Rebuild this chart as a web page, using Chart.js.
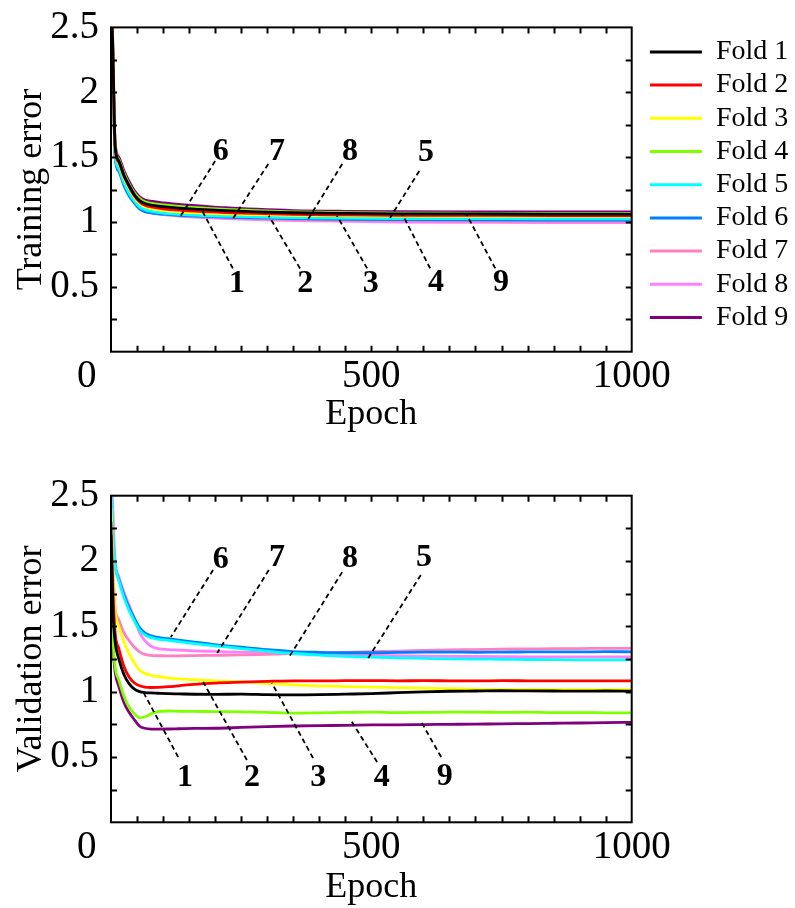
<!DOCTYPE html>
<html>
<head>
<meta charset="utf-8">
<title>Training and validation error per fold</title>
<script src="https://cdn.jsdelivr.net/npm/chart.js@4.4.1/dist/chart.umd.min.js"></script>
<style>
  html, body { margin: 0; padding: 0; background: #ffffff; overflow: hidden; }
  #wrap { position: relative; width: 795px; height: 908px; overflow: hidden; }
  canvas { position: absolute; left: 0; }
</style>
</head>
<body>
<div id="wrap">
  <canvas id="trainChart" width="795" height="454" style="top:0px"></canvas>
  <canvas id="valChart" width="795" height="454" style="top:454px"></canvas>
</div>
<script>
// ---- data -------------------------------------------------------------
const foldNames = ['Fold 1', 'Fold 2', 'Fold 3', 'Fold 4', 'Fold 5', 'Fold 6', 'Fold 7', 'Fold 8', 'Fold 9'];
const foldColors = ['#000000', '#ff0000', '#ffff00', '#80ff00', '#00ffff', '#0080ff', '#ff80c0', '#ff80ff', '#800080'];

// training error
const trainEpochs = [0, 3, 8, 15, 25, 35, 45, 55, 65, 80, 100, 130, 170, 220, 280, 350, 450, 550, 700, 850, 1000];
const trainFold1 = [2.70, 2.40, 1.58, 1.47, 1.36, 1.28, 1.21, 1.165, 1.142, 1.128, 1.118, 1.107, 1.097, 1.087, 1.078, 1.071, 1.066, 1.063, 1.062, 1.061, 1.061];
const trainFold2 = [2.68, 2.38, 1.57, 1.46, 1.35, 1.27, 1.20, 1.155, 1.130, 1.114, 1.102, 1.091, 1.081, 1.073, 1.066, 1.059, 1.055, 1.052, 1.051, 1.050, 1.050];
const trainFold3 = [2.66, 2.36, 1.56, 1.45, 1.34, 1.26, 1.19, 1.145, 1.120, 1.102, 1.090, 1.079, 1.071, 1.063, 1.057, 1.052, 1.048, 1.046, 1.045, 1.045, 1.045];
const trainFold4 = [2.70, 2.42, 1.59, 1.48, 1.375, 1.29, 1.225, 1.18, 1.155, 1.142, 1.132, 1.120, 1.108, 1.097, 1.087, 1.078, 1.071, 1.068, 1.067, 1.066, 1.066];
const trainFold5 = [2.62, 2.32, 1.52, 1.41, 1.30, 1.22, 1.16, 1.115, 1.095, 1.080, 1.068, 1.059, 1.051, 1.045, 1.039, 1.033, 1.029, 1.027, 1.026, 1.025, 1.025];
const trainFold6 = [2.60, 2.30, 1.50, 1.39, 1.28, 1.20, 1.145, 1.100, 1.080, 1.068, 1.060, 1.052, 1.045, 1.038, 1.032, 1.026, 1.021, 1.018, 1.016, 1.015, 1.015];
const trainFold7 = [2.62, 2.30, 1.50, 1.40, 1.29, 1.21, 1.15, 1.105, 1.085, 1.070, 1.060, 1.050, 1.040, 1.032, 1.025, 1.018, 1.012, 1.008, 1.005, 1.003, 1.003];
const trainFold8 = [2.65, 2.32, 1.50, 1.40, 1.29, 1.21, 1.15, 1.105, 1.085, 1.068, 1.057, 1.046, 1.035, 1.026, 1.018, 1.011, 1.005, 1.000, 0.997, 0.995, 0.995];
const trainFold9 = [2.75, 2.45, 1.61, 1.50, 1.395, 1.31, 1.24, 1.195, 1.169, 1.158, 1.148, 1.135, 1.124, 1.110, 1.098, 1.088, 1.082, 1.079, 1.077, 1.077, 1.077];

// validation error
const valEpochs = [0, 4, 8, 15, 25, 35, 45, 55, 65, 77, 90, 110, 130, 160, 200, 250, 300, 350, 400, 450, 500, 550, 600, 650, 700, 750, 800, 850, 900, 950, 1000];
const valFold1 = [2.20, 1.60, 1.38, 1.25, 1.13, 1.06, 1.020, 1.000, 0.993, 0.990, 0.988, 0.985, 0.983, 0.980, 0.979, 0.981, 0.977, 0.975, 0.977, 0.981, 0.985, 0.992, 0.999, 1.003, 1.005, 1.007, 1.006, 1.005, 1.004, 1.005, 1.003];
const valFold2 = [2.30, 1.75, 1.45, 1.33, 1.19, 1.11, 1.066, 1.045, 1.035, 1.032, 1.033, 1.038, 1.045, 1.056, 1.066, 1.073, 1.079, 1.083, 1.082, 1.084, 1.085, 1.083, 1.084, 1.083, 1.082, 1.084, 1.083, 1.082, 1.083, 1.082, 1.082];
const valFold3 = [2.40, 1.90, 1.62, 1.50, 1.38, 1.29, 1.22, 1.165, 1.140, 1.125, 1.116, 1.106, 1.098, 1.091, 1.083, 1.075, 1.063, 1.052, 1.044, 1.039, 1.035, 1.031, 1.027, 1.023, 1.020, 1.018, 1.017, 1.016, 1.016, 1.015, 1.015];
const valFold4 = [1.90, 1.40, 1.19, 1.09, 0.965, 0.880, 0.830, 0.800, 0.808, 0.830, 0.848, 0.852, 0.850, 0.849, 0.847, 0.846, 0.842, 0.836, 0.838, 0.841, 0.843, 0.840, 0.841, 0.843, 0.844, 0.841, 0.843, 0.840, 0.840, 0.838, 0.837];
const valFold5 = [2.60, 2.20, 1.97, 1.85, 1.72, 1.62, 1.54, 1.47, 1.435, 1.413, 1.403, 1.393, 1.383, 1.368, 1.350, 1.330, 1.310, 1.292, 1.280, 1.270, 1.264, 1.258, 1.255, 1.251, 1.249, 1.248, 1.246, 1.245, 1.244, 1.244, 1.243];
const valFold6 = [2.50, 2.15, 1.96, 1.86, 1.74, 1.64, 1.56, 1.49, 1.450, 1.428, 1.415, 1.405, 1.395, 1.380, 1.360, 1.340, 1.321, 1.307, 1.301, 1.298, 1.298, 1.300, 1.302, 1.303, 1.301, 1.303, 1.304, 1.305, 1.304, 1.306, 1.305];
const valFold7 = [2.35, 1.90, 1.64, 1.55, 1.45, 1.39, 1.34, 1.305, 1.285, 1.277, 1.275, 1.274, 1.274, 1.276, 1.278, 1.281, 1.286, 1.291, 1.296, 1.301, 1.306, 1.310, 1.316, 1.320, 1.322, 1.326, 1.327, 1.329, 1.330, 1.332, 1.332];
const valFold8 = [2.80, 2.35, 2.00, 1.88, 1.76, 1.66, 1.56, 1.45, 1.390, 1.348, 1.330, 1.322, 1.318, 1.312, 1.308, 1.302, 1.298, 1.291, 1.286, 1.281, 1.278, 1.275, 1.272, 1.270, 1.269, 1.268, 1.267, 1.266, 1.266, 1.267, 1.266];
const valFold9 = [1.85, 1.35, 1.15, 1.04, 0.915, 0.840, 0.785, 0.735, 0.720, 0.714, 0.713, 0.714, 0.716, 0.719, 0.720, 0.726, 0.732, 0.737, 0.740, 0.742, 0.745, 0.746, 0.748, 0.750, 0.752, 0.753, 0.756, 0.758, 0.760, 0.763, 0.765];

// fold numbers written on the plots: text spot and dashed leader (epoch, error)
const trainMarkText  = ['6', '7', '8', '5', '1', '2', '3', '4', '9'];
const trainMarkAt    = [[211, 1.545], [319, 1.545], [459, 1.545], [605, 1.531], [242, 0.527], [373, 0.527], [499, 0.527], [624, 0.535], [749, 0.535]];
const trainLeadFrom  = [[200, 1.470], [302, 1.447], [444, 1.447], [592, 1.393], [234, 0.642], [363, 0.642], [492, 0.642], [613, 0.642], [738, 0.642]];
const trainLeadTo    = [[134, 1.048], [234, 1.025], [378, 1.018], [536, 1.033], [175, 1.087], [303, 1.048], [434, 1.048], [559, 1.064], [682, 1.064]];

const valMarkText    = ['6', '7', '8', '5', '1', '2', '3', '4', '9'];
const valMarkAt      = [[211, 2.008], [319, 2.023], [459, 2.015], [601, 2.023], [142, 0.339], [271, 0.339], [398, 0.339], [520, 0.339], [641, 0.347]];
const valLeadFrom    = [[196, 1.931], [303, 1.931], [444, 1.915], [595, 1.893], [129, 0.500], [261, 0.477], [388, 0.492], [511, 0.461], [634, 0.500]];
const valLeadTo      = [[115, 1.418], [204, 1.296], [342, 1.265], [494, 1.258], [62, 0.997], [177, 1.074], [309, 1.066], [459, 0.791], [597, 0.760]];

// axis ticks
const xTickLabels = { 0: '0     ', 500: '500', 1000: '1000' };
const yTickLabels = { 0.5: '0.5', 1: '1', 1.5: '1.5', 2: '2', 2.5: '2.5' };

// ---- drawing ----------------------------------------------------------
const SERIF = "'Liberation Serif', 'Times New Roman', Times, serif";

function makeSeries(epochs, folds) {
  return folds.map((vals, i) => ({
    label: foldNames[i],
    data: epochs.map((e, k) => ({ x: e, y: vals[k] })),
    borderColor: foldColors[i],
    backgroundColor: foldColors[i],
    borderWidth: 2.8,
    pointRadius: 0,
    cubicInterpolationMode: 'monotone',
    fill: false
  }));
}

// frame with inward tick marks on all four sides
const frameTicks = {
  id: 'frameTicks',
  afterDraw(chart) {
    const { ctx, chartArea: a, scales: { x, y } } = chart;
    const len = 6;
    ctx.save();
    ctx.strokeStyle = '#000';
    ctx.lineWidth = 2;
    ctx.beginPath();
    x.ticks.forEach(t => {
      if (t.value <= x.min || t.value >= x.max) return;
      const px = Math.round(x.getPixelForValue(t.value)) + 0.5;
      ctx.moveTo(px, a.bottom); ctx.lineTo(px, a.bottom - len);
      ctx.moveTo(px, a.top); ctx.lineTo(px, a.top + len);
    });
    y.ticks.forEach(t => {
      if (t.value <= y.min || t.value >= y.max) return;
      const py = Math.round(y.getPixelForValue(t.value)) + 0.5;
      ctx.moveTo(a.left, py); ctx.lineTo(a.left + len, py);
      ctx.moveTo(a.right, py); ctx.lineTo(a.right - len, py);
    });
    ctx.stroke();
    ctx.strokeRect(a.left, a.top, a.right - a.left, a.bottom - a.top);
    ctx.restore();
  }
};

// fold numbers with dashed leaders, placed in data units
const foldMarks = {
  id: 'foldMarks',
  afterDatasetsDraw(chart, args, opts) {
    const { ctx, scales: { x, y } } = chart;
    ctx.save();
    ctx.strokeStyle = '#000';
    ctx.lineWidth = 1.8;
    ctx.setLineDash([5, 3.5]);
    opts.text.forEach((txt, i) => {
      ctx.beginPath();
      ctx.moveTo(x.getPixelForValue(opts.from[i][0]), y.getPixelForValue(opts.from[i][1]));
      ctx.lineTo(x.getPixelForValue(opts.to[i][0]), y.getPixelForValue(opts.to[i][1]));
      ctx.stroke();
    });
    ctx.setLineDash([]);
    ctx.fillStyle = '#000';
    ctx.font = 'bold 32px ' + SERIF;
    ctx.textAlign = 'center';
    ctx.textBaseline = 'middle';
    opts.text.forEach((txt, i) => {
      ctx.fillText(txt, x.getPixelForValue(opts.at[i][0]), y.getPixelForValue(opts.at[i][1]));
    });
    ctx.restore();
  }
};

// legend sits a little right of the plot frame
const legendShift = {
  id: 'legendShift',
  afterLayout(chart, args, opts) {
    const lg = chart.legend;
    if (!lg || !opts.dx) return;
    lg.left += opts.dx; lg.right += opts.dx;
    lg.top += opts.dy; lg.bottom += opts.dy;
  }
};

function buildOptions(yTitle, pad, xHeight, titlePadBottom, marks, showLegend) {
  return {
    responsive: false,
    animation: false,
    layout: { padding: pad },
    plugins: {
      legend: showLegend ? {
        display: true,
        position: 'right',
        align: 'start',
        maxWidth: 150,
        labels: {
          boxWidth: 52,
          boxHeight: 3,
          padding: 5.2,
          color: '#000',
          font: { family: SERIF, size: 28 },
          generateLabels(chart) {
            return chart.data.datasets.map((d, i) => ({
              text: d.label,
              fillStyle: d.borderColor,
              strokeStyle: d.borderColor,
              lineWidth: 0,
              hidden: false,
              datasetIndex: i
            }));
          }
        }
      } : { display: false },
      tooltip: { enabled: false },
      foldMarks: marks,
      legendShift: showLegend ? { dx: 13, dy: 7 } : { dx: 0, dy: 0 }
    },
    scales: {
      x: {
        type: 'linear',
        min: 0,
        max: 1000,
        grid: { display: false },
        border: { display: false },
        ticks: {
          stepSize: 50,
          autoSkip: false,
          maxRotation: 0,
          minRotation: 0,
          padding: -6,
          color: '#000',
          font: { family: SERIF, size: 39, lineHeight: 1.2 },
          callback: v => (xTickLabels[v] !== undefined ? xTickLabels[v] : '')
        },
        title: {
          display: true,
          text: 'Epoch',
          color: '#000',
          font: { family: SERIF, size: 36, lineHeight: 1.2 },
          padding: { top: 0, bottom: titlePadBottom }
        },
        afterFit(scale) { scale.height = xHeight; }
      },
      y: {
        type: 'linear',
        min: 0,
        max: 2.5,
        grid: { display: false },
        border: { display: false },
        ticks: {
          stepSize: 0.25,
          autoSkip: false,
          padding: 4,
          color: '#000',
          font: { family: SERIF, size: 39, lineHeight: 1.2 },
          callback: v => {
            const key = Math.round(v * 100) / 100;
            return yTickLabels[key] !== undefined ? yTickLabels[key] : '';
          }
        },
        title: {
          display: true,
          text: yTitle,
          color: '#000',
          font: { family: SERIF, size: 36, lineHeight: 1.2 },
          padding: { top: 10, bottom: 0 }
        },
        afterFit(scale) { scale.width = 111; }
      }
    }
  };
}

new Chart(document.getElementById('trainChart'), {
  type: 'line',
  data: {
    datasets: makeSeries(trainEpochs, [trainFold1, trainFold2, trainFold3, trainFold4, trainFold5, trainFold6, trainFold7, trainFold8, trainFold9])
  },
  options: buildOptions('Training error', { top: 25.7, right: 13.3, bottom: 0, left: 0 }, 102.3, 18,
    { text: trainMarkText, at: trainMarkAt, from: trainLeadFrom, to: trainLeadTo }, true),
  plugins: [frameTicks, foldMarks, legendShift]
});

new Chart(document.getElementById('valChart'), {
  type: 'line',
  data: {
    datasets: makeSeries(valEpochs, [valFold1, valFold2, valFold3, valFold4, valFold5, valFold6, valFold7, valFold8, valFold9])
  },
  options: buildOptions('Validation error', { top: 41.7, right: 163.3, bottom: 0, left: 0 }, 85.7, -1,
    { text: valMarkText, at: valMarkAt, from: valLeadFrom, to: valLeadTo }, false),
  plugins: [frameTicks, foldMarks, legendShift]
});
</script>
</body>
</html>
